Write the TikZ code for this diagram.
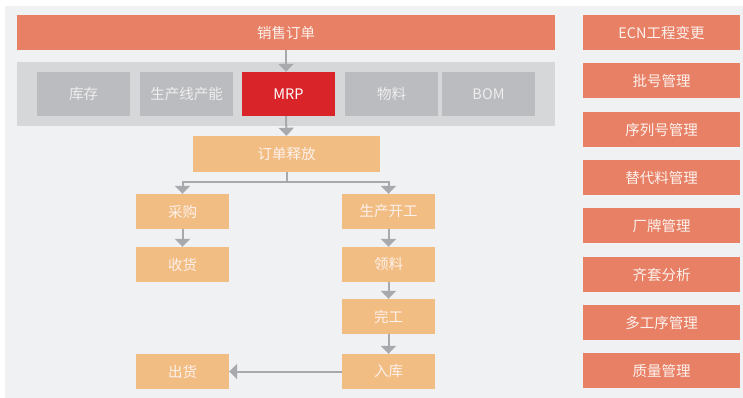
\documentclass[tikz,border=0pt]{standalone}
\usepackage{fontspec}
\setmainfont{Noto Sans CJK SC}
\usetikzlibrary{arrows.meta}
\definecolor{bgc}{HTML}{F0F1F3}
\definecolor{salmon}{HTML}{E88066}
\definecolor{orangel}{HTML}{F2BD82}
\definecolor{grayb}{HTML}{BBBCBF}
\definecolor{panelc}{HTML}{D6D7D9}
\definecolor{mrpc}{HTML}{D9252A}
\definecolor{arrc}{HTML}{A7A9AC}
\definecolor{txtc}{HTML}{FDF1EC}
\definecolor{graytxt}{HTML}{EEEEEF}
\tikzset{
  box/.style={rectangle, draw=none, inner sep=0pt, text=txtc, font=\fontsize{14.5}{16}\selectfont},
  salbox/.style={box, fill=salmon, minimum height=35pt},
  orbox/.style={box, fill=orangel, minimum width=93pt, minimum height=35pt},
  grbox/.style={box, fill=grayb, minimum width=93pt, minimum height=44pt, text=graytxt},
  rbox/.style={salbox, minimum width=157pt},
  arr/.style={draw=arrc, line width=2pt, -{Triangle[width=15pt,length=8pt]}},
  ln/.style={draw=arrc, line width=2pt}
}
\begin{document}
\begin{tikzpicture}[x=1pt,y=1pt]
\useasboundingbox (0,0) rectangle (743,-398);
\fill[bgc] (5,-6) rectangle (743,-398);
% top bar
\node[salbox, minimum width=538pt] (sales) at (286,-32.5) {销售订单};
% panel
\node[box, fill=panelc, minimum width=538pt, minimum height=64pt] (panel) at (286,-94) {};
\node[grbox] (kc) at (83.5,-94) {库存};
\node[grbox] (scx) at (186.5,-94) {生产线产能};
\node[grbox, fill=mrpc, text=white] (mrp) at (288.5,-94) {MRP};
\node[grbox] (wl) at (391.5,-94) {物料};
\node[grbox] (bom) at (488.5,-94) {BOM};
% flow
\node[orbox, minimum width=187pt, minimum height=36pt] (rel) at (286.5,-154) {订单释放};
\node[orbox] (cg) at (182.5,-211.5) {采购};
\node[orbox] (sh) at (182.5,-264.5) {收货};
\node[orbox] (sckg) at (388.5,-211.5) {生产开工};
\node[orbox] (ll) at (388.5,-264.5) {领料};
\node[orbox] (wg) at (388.5,-316.5) {完工};
\node[orbox] (rk) at (388.5,-371.5) {入库};
\node[orbox] (ch) at (182.5,-371.5) {出货};
% right column
\node[rbox] (r1) at (661.5,-32.5) {ECN工程变更};
\node[rbox] (r2) at (661.5,-80.5) {批号管理};
\node[rbox] (r3) at (661.5,-129.5) {序列号管理};
\node[rbox] (r4) at (661.5,-177.5) {替代料管理};
\node[rbox] (r5) at (661.5,-225.5) {厂牌管理};
\node[rbox] (r6) at (661.5,-274.5) {齐套分析};
\node[rbox] (r7) at (661.5,-322.5) {多工序管理};
\node[rbox] (r8) at (661.5,-370.5) {质量管理};
% connectors
\draw[arr] (sales.south) -- (sales.south |- mrp.north);
\draw[arr] (sales.south |- mrp.south) -- (rel.north);
\coordinate (fork) at (286.5,-182);
\draw[ln] (rel.south) -- (fork);
\draw[arr] (fork) -| (cg.north);
\draw[arr] (fork) -| (sckg.north);
\draw[arr] (cg) -- (sh);
\draw[arr] (sckg) -- (ll);
\draw[arr] (ll) -- (wg);
\draw[arr] (wg) -- (rk);
\draw[arr] (rk) -- (ch);
\end{tikzpicture}
\end{document}
